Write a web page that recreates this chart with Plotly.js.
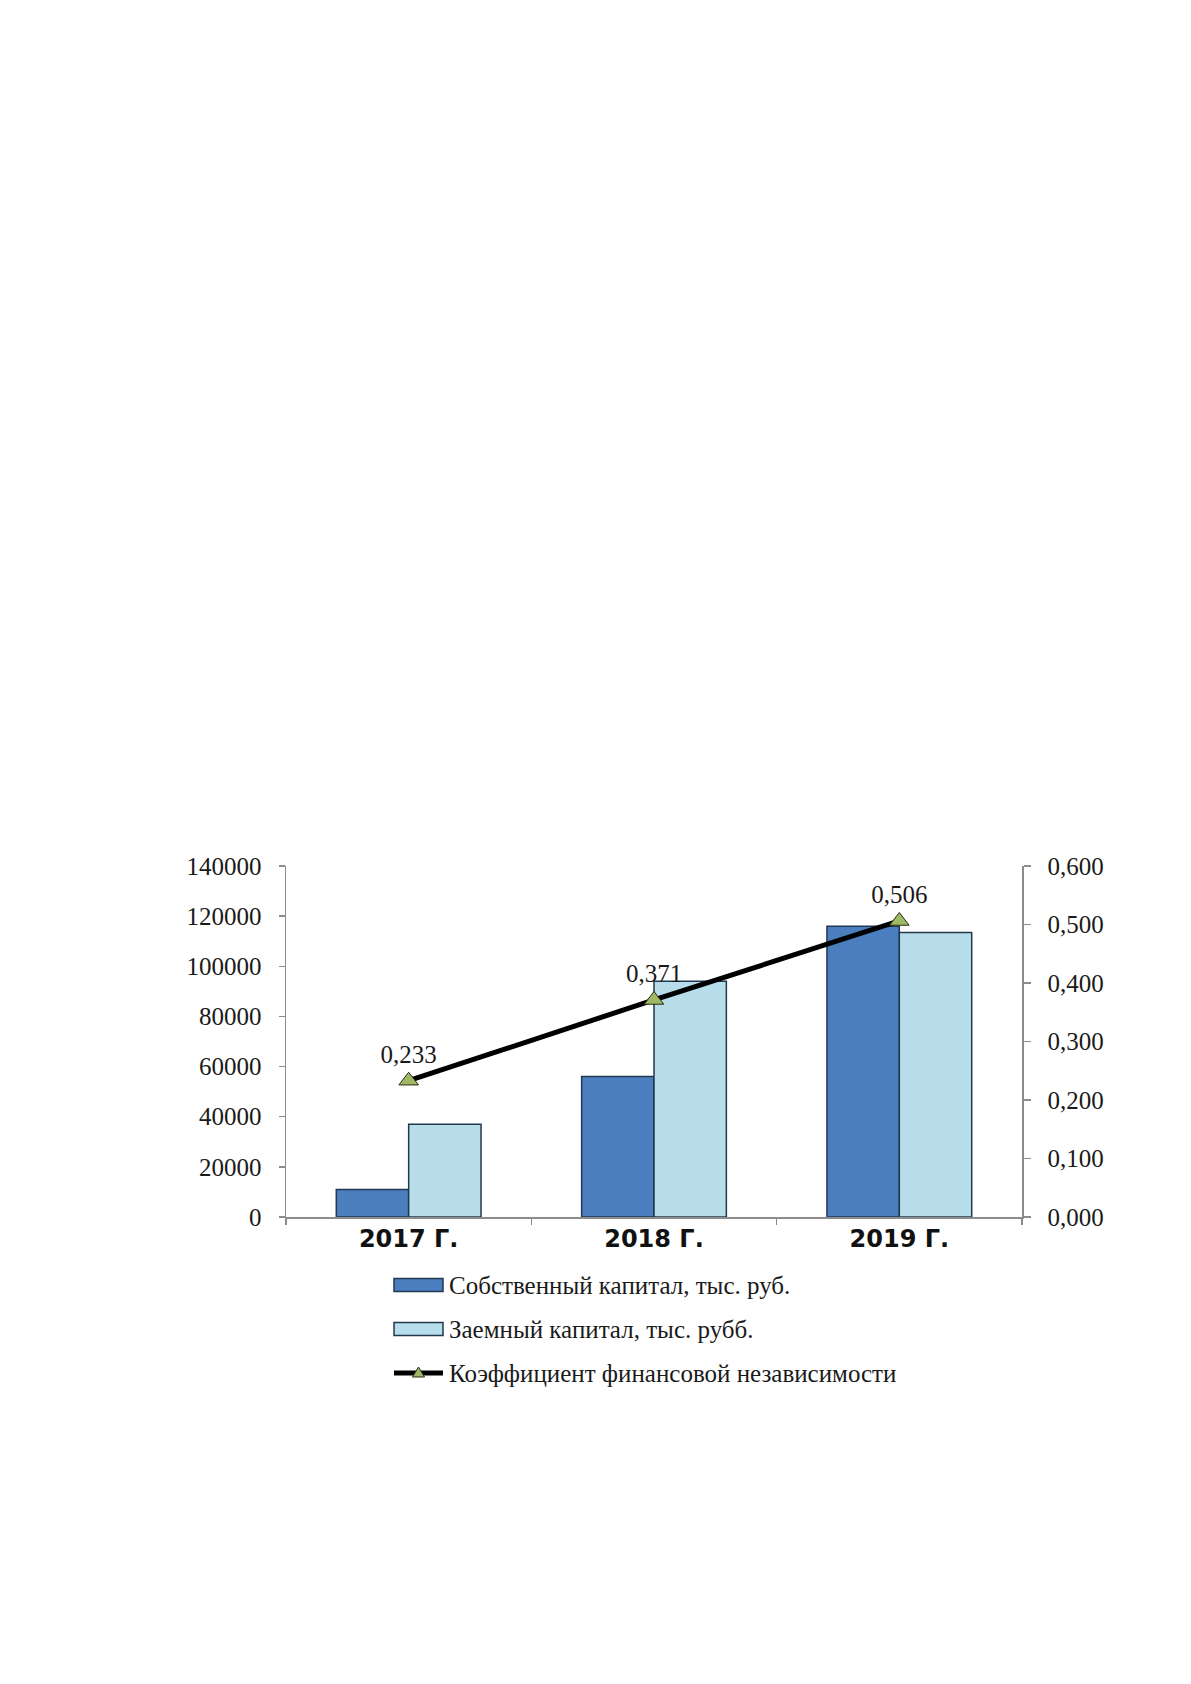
<!DOCTYPE html>
<html>
<head>
<meta charset="utf-8">
<script src="https://cdn.plot.ly/plotly-3.0.1.min.js"></script>
<style>
  html, body { margin: 0; padding: 0; background: #fff; }
  #chart { width: 1191px; height: 1684px; }
</style>
</head>
<body>
<div id="chart"></div>
<script>
// chart data
const years = ['2017 Г.', '2018 Г.', '2019 Г.'];
const ownCapital = [11000, 56000, 116000];
const borrowedCapital = [37000, 94000, 113500];
const independenceRatio = [0.233, 0.371, 0.506];
const legendNames = [
    'Собственный капитал, тыс. руб.',
    'Заемный капитал, тыс. рубб.',
    'Коэффициент финансовой независимости'
];

const colorOwn = '#4a7ebf';
const colorBorrowed = '#b6dde9';
const colorEdge = '#22384f';
const colorMarker = '#9fb865';
const serif = '"Liberation Serif", "Times New Roman", serif';

// plot area in page pixels
const plotL = 286, plotR = 1022, plotT = 866, plotB = 1217;
const px2x = px => (px - plotL) / (plotR - plotL);
const px2y = py => (plotB - py) / (plotB - plotT);

const traces = [
    {
        type: 'bar', x: years, y: ownCapital, name: legendNames[0],
        marker: { color: colorOwn, line: { color: colorEdge, width: 1.5 } },
        hoverinfo: 'y'
    },
    {
        type: 'bar', x: years, y: borrowedCapital, name: legendNames[1],
        marker: { color: colorBorrowed, line: { color: colorEdge, width: 1.5 } },
        hoverinfo: 'y'
    },
    {
        type: 'scatter', mode: 'lines+markers+text', x: years, y: independenceRatio,
        yaxis: 'y2', name: legendNames[2],
        text: independenceRatio.map(v => v.toFixed(3).replace('.', ',')),
        textposition: 'top center',
        textfont: { family: serif, size: 25, color: '#1a1a1a' },
        line: { color: '#000', width: 5 },
        marker: { symbol: 'triangle-up', size: 17, color: colorMarker, line: { color: '#2a2a10', width: 1 } },
        cliponaxis: false
    }
];

// hand-made legend (wide swatches like the original)
const legendRows = [1285, 1329, 1373];
const swL = 394, swR = 443;
const shapes = [];
const annotations = [];
[colorOwn, colorBorrowed].forEach((c, i) => {
    shapes.push({
        type: 'rect', xref: 'paper', yref: 'paper',
        x0: px2x(swL), x1: px2x(swR),
        y0: px2y(legendRows[i] - 6.5), y1: px2y(legendRows[i] + 6.5),
        fillcolor: c, line: { color: colorEdge, width: 1.5 }
    });
});
shapes.push({
    type: 'line', xref: 'paper', yref: 'paper',
    x0: px2x(swL), x1: px2x(swR), y0: px2y(legendRows[2]), y1: px2y(legendRows[2]),
    line: { color: '#000', width: 5 }
});
const tx = (swL + swR) / 2, ty = legendRows[2];
shapes.push({
    type: 'path', xref: 'paper', yref: 'paper',
    path: `M ${px2x(tx - 6)} ${px2y(ty + 4)} L ${px2x(tx + 6)} ${px2y(ty + 4)} L ${px2x(tx)} ${px2y(ty - 6)} Z`,
    fillcolor: colorMarker, line: { color: '#2a2a10', width: 1 }
});
legendNames.forEach((n, i) => {
    annotations.push({
        xref: 'paper', yref: 'paper', x: px2x(447), y: px2y(legendRows[i]),
        xanchor: 'left', yanchor: 'middle', text: n, showarrow: false,
        font: { family: serif, size: 25, color: '#1a1a1a' }
    });
});

const axisGray = '#8c8c8c';
const layout = {
    width: 1191, height: 1684,
    margin: { l: plotL, r: 1191 - plotR, t: plotT, b: 1684 - plotB, pad: 0 },
    paper_bgcolor: '#fff', plot_bgcolor: '#fff',
    showlegend: false,
    barmode: 'group', bargap: 0.41, bargroupgap: 0,
    separators: ', ',
    xaxis: {
        type: 'category', showline: true, linecolor: axisGray, linewidth: 1.5,
        ticks: 'outside', tickson: 'boundaries', ticklen: 6, tickcolor: axisGray, tickwidth: 1.5,
        showgrid: false, zeroline: false,
        tickfont: { family: '"DejaVu Sans", sans-serif', size: 24, color: '#111', weight: 'bold' }
    },
    yaxis: {
        range: [0, 140000], dtick: 20000, tickformat: 'd',
        showline: true, linecolor: axisGray, linewidth: 1.5,
        ticks: 'outside', ticklen: 6, tickcolor: axisGray, tickwidth: 1.5,
        ticklabelstandoff: 12,
        showgrid: false, zeroline: false,
        tickfont: { family: serif, size: 25, color: '#1a1a1a' }
    },
    yaxis2: {
        overlaying: 'y', side: 'right',
        range: [0, 0.6], dtick: 0.1, tickformat: '.3f',
        showline: true, linecolor: axisGray, linewidth: 1.5,
        ticks: 'outside', ticklen: 7, tickcolor: axisGray, tickwidth: 1.5,
        ticklabelstandoff: 12,
        showgrid: false, zeroline: false,
        tickfont: { family: serif, size: 25, color: '#1a1a1a' }
    },
    shapes: shapes,
    annotations: annotations
};

Plotly.newPlot('chart', traces, layout, { displayModeBar: false, staticPlot: true });
</script>
</body>
</html>
